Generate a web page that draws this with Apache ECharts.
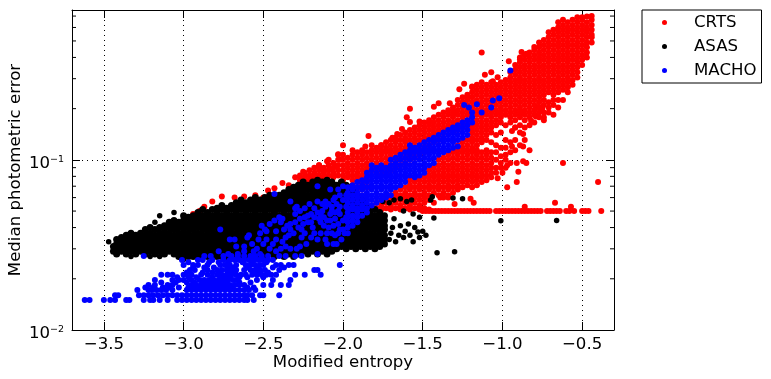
<!DOCTYPE html>
<html>
<head>
<meta charset="utf-8">
<script src="https://cdn.jsdelivr.net/npm/echarts@6/dist/echarts.min.js"></script>
<style>html,body{margin:0;background:#fff}#main{width:771px;height:379px}</style>
</head>
<body>
<div id="main"></div>
<script>
var xTicks = [-3.5, -3.0, -2.5, -2.0, -1.5, -1.0, -0.5];
var yMinorTicks = [.02,.03,.04,.05,.06,.07,.08,.09,.2,.3,.4,.5,.6,.7];

var crtsColumns = [
[-2.0,[.107,.1,.093,.087,.081,.076]],[-1.97,[.103,.096,.09,.084,.079]],[-1.94,[.114,.107,.1,.093,.087,.081,.076,.071]],
[-1.91,[.111,.103,.096,.09,.084,.079,.074]],[-1.88,[.114,.107,.1,.093,.087,.081,.076,.071,.067]],[-1.85,[.111,.103,.096,.09,.084,.079,.074,.069]],
[-1.82,[.122,.114,.107,.1,.093,.087,.054,.051]],[-1.79,[.118,.111,.103,.096,.09,.084,.056,.052]],[-1.76,[.122,.114,.107,.1,.093,.087,.081,.058,.054,.051]],
[-1.73,[.127,.118,.111,.103,.096,.09,.084,.06,.056,.052]],[-1.7,[.131,.122,.114,.107,.1,.093,.087,.062,.058,.054,.051]],[-1.67,[.135,.127,.118,.111,.103,.096,.09,.064,.06,.056,.052]],
[-1.64,[.14,.131,.122,.114,.107,.1,.093,.067,.062,.058,.054,.051]],[-1.61,[.135,.127,.118,.111,.103,.096,.069,.064,.06,.056,.052]],[-1.58,[.14,.131,.122,.114,.107,.1,.076,.071,.067,.062,.058,.054,.051]],
[-1.55,[.145,.135,.127,.118,.111,.103,.079,.074,.069,.064,.06,.056,.052]],[-1.52,[.15,.14,.131,.122,.114,.107,.076,.071,.067,.062,.058,.054,.051]],[-1.49,[.155,.145,.135,.127,.118,.111,.079,.074,.069,.064,.06,.056,.052]],
[-1.46,[.15,.14,.131,.122,.114,.087,.081,.076,.071,.067,.062,.058,.051]],[-1.43,[.155,.145,.135,.127,.09,.084,.079,.074,.069,.064,.056]],[-1.4,[.16,.15,.14,.131,.093,.087,.081,.076,.071,.067]],
[-1.37,[.166,.155,.145,.135,.103,.096,.09,.084,.079,.074,.069]],[-1.34,[.171,.16,.15,.107,.1,.093,.087,.081,.076,.071]],[-1.31,[.178,.166,.155,.145,.111,.103,.096,.09,.084,.079,.074]],
[-1.28,[.184,.171,.16,.15,.122,.114,.107,.1,.093,.087,.081,.076]],[-1.25,[.19,.178,.166,.155,.127,.118,.111,.103,.096,.09,.084,.079]],[-1.22,[.196,.184,.171,.16,.131,.122,.114,.107,.1,.093,.087,.081]],
[-1.19,[.218,.203,.19,.178,.166,.155,.145,.135,.127,.118,.111,.103,.096,.09,.084]],[-1.16,[.225,.21,.196,.184,.171,.16,.15,.14,.131,.122,.114,.107,.1,.093,.087]],[-1.13,[.25,.233,.218,.203,.19,.178,.166,.155,.145,.135,.127,.111,.103,.096,.09]],
[-1.1,[.258,.241,.225,.21,.196,.184,.171,.16,.15,.14,.131,.114,.107,.1,.093]],[-1.07,[.267,.25,.233,.218,.203,.19,.178,.166,.155,.145,.127,.111,.09]],[-1.04,[.276,.258,.241,.225,.21,.196,.184,.171,.16,.14,.122,.1]],
[-1.01,[.286,.267,.25,.233,.218,.203,.19,.178,.166,.145,.118,.096]],[-.98,[.295,.276,.258,.241,.225,.21,.196,.184,.16,.131,.107]],[-.95,[.327,.305,.286,.267,.25,.233,.218,.203,.19,.166,.127,.096]],
[-.92,[.361,.338,.316,.295,.276,.258,.241,.225,.21,.196,.171,.114]],[-.89,[.4,.375,.35,.327,.305,.286,.267,.25,.233,.218,.203,.19,.145]],[-.86,[.414,.387,.361,.338,.316,.295,.276,.258,.241,.225,.21,.196,.171]],
[-.83,[.428,.4,.375,.35,.327,.305,.286,.267,.25,.233,.218,.19]],[-.8,[.443,.414,.387,.361,.338,.316,.295,.276,.258,.241,.225,.196]],[-.77,[.49,.459,.428,.4,.375,.35,.327,.305,.286,.267,.25,.233,.203,.178]],
[-.74,[.507,.474,.443,.414,.387,.361,.338,.316,.295,.276,.258,.241,.21,.171]],[-.71,[.562,.525,.49,.459,.428,.4,.375,.35,.327,.305,.286,.267,.25,.218,.19]],[-.68,[.581,.543,.507,.474,.443,.414,.387,.361,.338,.316,.295,.276,.258,.225]],
[-.65,[.643,.6,.562,.525,.49,.459,.428,.4,.375,.35,.327,.305,.286,.267]],[-.62,[.665,.621,.581,.543,.507,.474,.443,.414,.387,.361,.338,.316,.295]],[-.59,[.643,.6,.562,.525,.49,.459,.428,.4,.375,.35,.327,.305]],
[-.56,[.665,.621,.581,.543,.507,.474,.443,.414,.387,.361,.338]],[-.53,[.688,.643,.6,.562,.525,.49,.459,.428,.4,.375,.35]],[-.5,[.69,.665,.621,.581,.543,.507,.474,.443,.414,.387]],
[-.47,[.695,.643,.6,.562,.525,.49,.459,.428]],[-.44,[.70,.665,.621,.581,.543]]
];
// more CRTS: left end above ASAS, upper edge, lower edge
var crtsLeftColumns = [
[-2.27,[.076,.081]],[-2.24,[.079,.084]],[-2.21,[.081,.087]],[-2.18,[.079,.084,.09]],[-2.15,[.081,.087,.093]],[-2.12,[.079,.084,.09]],[-2.09,[.081,.087,.093,.1]],[-2.06,[.079,.084,.09,.096]],[-2.03,[.081,.087,.093,.1,.107]]
];
var crtsTopColumns = [
[-1.61,[.145]],[-1.58,[.15]],[-1.55,[.155]],[-1.52,[.16]],[-1.49,[.166]],[-1.46,[.16,.171]],[-1.43,[.166,.178]],[-1.4,[.171,.184]],[-1.37,[.178,.19]],[-1.34,[.184,.196]],[-1.31,[.19,.203]],
[-1.28,[.196,.21,.225]],[-1.25,[.203,.218,.233]],[-1.22,[.21,.225,.241]],[-1.19,[.233,.25,.267]],[-1.16,[.241,.258,.276]],[-1.13,[.267,.286]],[-1.1,[.276]],[-1.07,[.286]]
];
var crtsLowColumns = [
[-1.4,[.1,.062]],[-1.37,[.064,.06]],[-1.34,[.067,.062]],[-1.31,[.069,.064]],[-1.28,[.071,.067]],[-1.25,[.074,.069]],[-1.22,[.076,.071]],[-1.19,[.079,.074,.069]],[-1.16,[.081,.076,.071]],[-1.13,[.084,.079,.074]],[-1.1,[.087,.081,.076]],
[-1.07,[.103,.096,.084,.079]],[-1.04,[.111,.09,.084]],[-1.01,[.105,.09]],[-.98,[.118,.1,.09]],[-.95,[.178,.111]],[-.92,[.184,.155,.131]],[-.89,[.178,.16,.122]],[-.86,[.184,.155,.131]],[-.83,[.203,.178,.16]],[-.8,[.21,.184,.166]],
[-.77,[.218,.19]],[-.74,[.225,.19]],[-.71,[.203]],[-.68,[.241,.21,.184]],[-.65,[.25,.225,.203]],[-.62,[.276,.258,.225]],[-.59,[.286,.267,.25]],[-.56,[.316,.295,.276]],[-.53,[.327,.305]],[-.5,[.361]],[-.47,[.4]],[-.44,[.525,.49]]
];
// sparse CRTS points above the ASAS cloud and around the main band
var crtsScatter = [
[-2.9,.05],[-2.94,.048],[-2.87,.053],[-2.82,.057],[-2.76,.061],[-2.68,.06],[-2.62,.061],[-2.55,.062],[-2.5,.06],[-2.47,.066],[-2.43,.068],[-2.38,.073],[-2.34,.071],[-2.3,.079],[-2.25,.085],[-2.2,.08],[-2.28,.068],[-2.22,.076],
[-2.15,.093],[-2.12,.085],[-2.08,.088],[-2.05,.092],[-2.03,.108],[-2.1,.098],[-2.17,.081],[-2.0,.122],[-2.02,.1],[-2.06,.08],[-2.14,.077],
[-1.86,.12],[-1.76,.122],[-1.84,.138],[-1.69,.135],[-1.58,.167],[-1.66,.142],[-1.52,.168],[-1.46,.165],[-1.63,.152],
[-1.58,.2],[-1.6,.178],[-1.43,.205],[-1.4,.215],[-1.33,.215],[-1.3,.19],[-1.27,.26],[-1.24,.28],[-1.19,.27],[-1.22,.23],
[-1.13,.428],[-.96,.38],[-.89,.39],[-.88,.43],[-.85,.42],[-.8,.46],[-1.11,.316],[-1.07,.327],[-1.03,.306],[-1.06,.29],
[-.79,.205],[-.75,.2],[-.74,.178],[-.79,.18],[-.82,.17],[-.88,.19],[-.87,.142],[-.94,.148],[-.92,.155],[-.87,.12],[-.83,.114],[-.94,.12],[-.87,.098],[-.91,.096],[-.85,.096],[-.97,.093],[-.9,.085],[-1.0,.084],[-.91,.074],[-.97,.069],[-1.03,.078],
[-.62,.096],[-.4,.074],[-.67,.056],[-.38,.05],[-.57,.053],[-.86,.053],[-1.34,.06],[-1.2,.059],[-1.18,.056],[-1.39,.06],[-1.3,.055]
];
// the flat row at 0.05
var crtsFloorX = [-1.5,-1.48,-1.46,-1.44,-1.42,-1.4,-1.38,-1.36,-1.34,-1.32,-1.3,-1.28,-1.26,-1.24,-1.22,-1.2,-1.18,-1.16,-1.14,-1.12,-1.1,-1.08,-1.04,-1.02,-1.0,-.98,-.96,-.94,-.92,-.9,-.88,-.86,-.84,-.82,-.8,-.78,-.76,-.72,-.7,-.68,-.66,-.64,-.6,-.58,-.55,-.5,-.48,-.46];
var crtsFloorY = .05;

// ASAS columns
var asasColumns = [
[-3.44,[.029,.031]],[-3.42,[.028,.03,.032,.034]],[-3.39,[.029,.031,.033,.035]],[-3.36,[.028,.03,.032,.034,.036]],[-3.33,[.029,.031,.033,.035,.037]],
[-3.3,[.028,.03,.032,.034,.036]],[-3.27,[.029,.031,.033,.035,.037]],[-3.24,[.028,.03,.032,.034,.036,.039]],[-3.21,[.029,.031,.033,.035,.037,.04]],[-3.18,[.028,.03,.032,.034,.036,.039]],
[-3.15,[.029,.031,.033,.035,.037,.04]],[-3.12,[.028,.03,.032,.034,.036,.039,.041]],[-3.09,[.029,.031,.033,.035,.037,.04,.043]],[-3.06,[.028,.03,.032,.034,.036,.039,.041,.044]],
[-3.03,[.027,.029,.031,.033,.035,.037,.04,.043]],[-3.0,[.027,.028,.03,.032,.034,.036,.039,.041,.044,.047]],[-2.97,[.027,.029,.031,.033,.035,.037,.04,.043,.046]],[-2.94,[.027,.028,.03,.032,.034,.036,.039,.041,.044,.047]],
[-2.91,[.027,.029,.031,.033,.035,.037,.04,.043,.046,.049]],[-2.88,[.027,.028,.03,.032,.034,.036,.039,.041,.044,.047,.051]],[-2.85,[.027,.029,.031,.033,.035,.037,.04,.043,.046,.049]],[-2.82,[.027,.028,.03,.032,.034,.036,.039,.041,.044,.047,.051]],
[-2.79,[.027,.029,.031,.033,.035,.037,.04,.043,.046,.049,.052]],[-2.76,[.027,.028,.03,.032,.034,.036,.039,.041,.044,.047,.051,.054]],[-2.73,[.027,.029,.031,.033,.035,.037,.04,.043,.046,.049,.052]],[-2.7,[.027,.028,.03,.032,.034,.036,.039,.041,.044,.047,.051,.054]],
[-2.67,[.027,.029,.031,.033,.035,.037,.04,.043,.046,.049,.052,.056]],[-2.64,[.027,.028,.03,.032,.034,.036,.039,.041,.044,.047,.051,.054,.058]],[-2.61,[.027,.029,.031,.033,.035,.037,.04,.043,.046,.049,.052,.056]],[-2.58,[.027,.028,.03,.032,.034,.036,.039,.041,.044,.047,.051,.054,.058]],
[-2.55,[.027,.029,.031,.033,.035,.037,.04,.043,.046,.049,.052,.056,.06]],[-2.52,[.027,.028,.03,.032,.034,.036,.039,.041,.044,.047,.051,.054,.058]],[-2.49,[.027,.029,.031,.033,.035,.037,.04,.043,.046,.049,.052,.056,.06]],[-2.46,[.028,.03,.032,.034,.036,.039,.041,.044,.047,.051,.054,.058,.062]],
[-2.43,[.027,.029,.031,.033,.035,.037,.04,.043,.046,.049,.052,.056,.06]],[-2.4,[.028,.03,.032,.034,.036,.039,.041,.044,.047,.051,.054,.058,.062]],[-2.37,[.027,.029,.031,.033,.035,.037,.04,.043,.046,.049,.052,.056,.06,.064]],[-2.34,[.028,.03,.032,.034,.036,.039,.041,.044,.047,.051,.054,.058,.062,.067]],
[-2.31,[.027,.029,.031,.033,.035,.037,.04,.043,.046,.049,.052,.056,.06,.064,.069]],[-2.28,[.028,.03,.032,.034,.036,.039,.041,.044,.047,.051,.054,.058,.062,.067,.071]],[-2.25,[.029,.031,.033,.035,.037,.04,.043,.046,.049,.052,.056,.06,.064,.069,.074]],[-2.22,[.028,.03,.032,.034,.036,.039,.041,.044,.047,.051,.054,.058,.062,.067,.071]],
[-2.19,[.029,.031,.033,.035,.037,.04,.043,.046,.049,.052,.056,.06,.064,.069,.074]],[-2.16,[.028,.03,.032,.034,.036,.039,.041,.044,.047,.051,.054,.058,.062,.067,.071,.076]],[-2.13,[.029,.031,.033,.035,.037,.04,.043,.046,.049,.052,.056,.06,.064,.069,.074]],[-2.1,[.028,.03,.032,.034,.036,.039,.041,.044,.047,.051,.054,.058,.062,.067,.071,.076]],
[-2.07,[.029,.031,.033,.035,.037,.04,.043,.046,.049,.052,.056,.06,.064,.069,.074]],[-2.04,[.03,.032,.034,.036,.039,.041,.044,.047,.051,.054,.058,.062,.067,.071]],[-2.01,[.031,.033,.035,.037,.04,.043,.046,.049,.052,.056,.06,.064,.069,.074]],[-1.98,[.03,.032,.034,.036,.039,.041,.044,.047,.051,.054,.058,.062,.067,.071]],
[-1.95,[.031,.033,.035,.037,.04,.043,.046,.049,.052,.056,.06,.064,.069]],[-1.92,[.03,.032,.034,.036,.039,.041,.044,.047,.051,.054,.058,.062,.067]],[-1.89,[.031,.033,.035,.037,.04,.043,.046,.049,.052,.056,.06]],[-1.86,[.03,.032,.034,.036,.039,.041,.044,.047,.051,.054,.058]],
[-1.83,[.031,.033,.035,.037,.04,.043,.046,.049,.052]],[-1.8,[.03,.032,.034,.036,.039,.041,.044,.047,.051]],[-1.77,[.031,.033,.035,.037,.04,.043,.046,.049]],[-1.74,[.032,.034,.036,.039,.041,.044,.047]]
];
var asasScatter = [
[-3.47,.033],[-3.33,.027],[-3.21,.027],[-3.18,.043],[-3.15,.047],[-3.15,.027],[-3.06,.049],[-3.0,.026],
[-1.71,.034],[-1.7,.037],[-1.69,.04],[-1.68,.045],[-1.67,.033],[-1.65,.036],[-1.64,.041],[-1.62,.035],[-1.61,.038],[-1.59,.042],[-1.58,.036],[-1.56,.033],[-1.55,.04],[-1.53,.0377],[-1.52,.035],[-1.52,.046],[-1.5,.038],[-1.48,.036],
[-1.01,.0439],[-.66,.044],[-1.43,.0456],[-1.31,.0597],[-1.25,.059],[-1.44,.0606],[-1.45,.058],[-1.57,.058],[-1.64,.059],[-1.75,.057],[-1.6,.057],[-1.68,.058],[-1.71,.056],[-1.41,.0284],[-1.3,.0288],[-1.56,.048],[-1.62,.05]
];

// MACHO: the diagonal band as columns
var machoColumns = [
[-1.97,[.069,.064,.06,.056,.052,.049,.046,.043,.04,.037]],[-1.94,[.071,.067,.062,.058,.054,.051,.047,.044,.041]],[-1.91,[.074,.069,.064,.06,.056,.052,.049,.046,.043]],[-1.88,[.076,.071,.067,.062,.058,.054,.051,.047]],
[-1.85,[.084,.079,.074,.069,.064,.06,.056,.052,.049]],[-1.82,[.093,.087,.081,.076,.071,.067,.062,.058,.054]],[-1.79,[.09,.084,.079,.074,.069,.064,.06,.056]],[-1.76,[.093,.087,.081,.076,.071,.067,.062,.058]],
[-1.73,[.09,.084,.079,.074,.069,.064,.06]],[-1.7,[.1,.093,.087,.081,.076,.071,.067,.062]],[-1.67,[.103,.096,.09,.084,.079,.074,.069]],[-1.64,[.107,.1,.093,.087,.081,.076,.071]],
[-1.61,[.111,.103,.096,.09,.084,.079,.074]],[-1.58,[.122,.114,.107,.1,.093,.087,.081]],[-1.55,[.118,.111,.103,.096,.09,.084,.079]],[-1.52,[.122,.114,.107,.1,.093,.087,.081]],
[-1.49,[.127,.118,.111,.103,.096,.09,.084]],[-1.46,[.131,.122,.114,.107,.1,.093]],[-1.43,[.135,.127,.118,.111,.103,.096]],[-1.4,[.14,.131,.122,.114,.107]],
[-1.37,[.145,.135,.127,.118,.111]],[-1.34,[.15,.14,.131,.122,.114]],[-1.31,[.155,.145,.135,.127,.118]],[-1.28,[.16,.15,.14,.131,.12]],
[-1.25,[.166,.155,.145,.135]],[-1.22,[.171,.16,.15,.14]],[-1.19,[.19,.178,.166]]
];
var machoScatter = [
[-1.24,.21],[-1.21,.203],[-1.16,.212],[-1.13,.19],[-1.06,.223],[-1.02,.23],[-1.07,.203],[-.95,.335],
[-2.77,.039],[-2.71,.034],[-2.68,.034],[-2.59,.036],[-2.6,.035],[-2.51,.041],[-2.49,.039],[-2.46,.042],[-2.4,.046],[-2.43,.044],[-2.38,.045],[-2.39,.043],[-2.52,.037],[-2.48,.038],[-2.42,.038],[-2.35,.041],[-2.33,.042],[-2.33,.057],[-2.29,.053],[-2.3,.048],[-2.3,.043],[-2.24,.046],[-2.2,.048],[-2.16,.049],[-2.15,.045],[-2.21,.055],[-2.16,.057],[-2.11,.057],[-2.11,.053],[-2.08,.067],[-2.03,.067],[-2.06,.058],[-2.02,.053],[-1.98,.053],[-2.05,.049],[-2.1,.044],[-2.14,.043],[-2.19,.04],[-2.26,.039],[-2.26,.035],[-2.23,.032],[-2.31,.037],[-2.36,.035],[-2.42,.034],[-2.48,.034],[-2.53,.034],[-2.57,.032],[-2.62,.031],[-2.67,.031],[-2.54,.03],[-2.46,.03],[-2.39,.03],[-2.33,.03],[-2.29,.03],[-2.16,.034],[-2.11,.034],[-2.1,.032],[-2.06,.032],[-2.05,.036],[-1.99,.037],[-2.16,.028],[-2.43,.063],[-2.16,.07],
[-2.02,.062],[-2.0,.07],[-2.05,.06],[-1.98,.062],[-2.0,.058],[-2.02,.048],[-2.0,.044],[-1.98,.046],[-2.03,.042],[-2.0,.039],[-2.27,.05],[-2.24,.052],[-2.18,.052],[-2.13,.05],[-2.08,.048],[-2.07,.053],[-2.09,.04],[-2.06,.041],[-2.22,.043],[-2.34,.036],[-2.38,.033],[-2.44,.032],[-2.5,.032],[-2.36,.031],[-2.27,.031],[-2.42,.029],[-2.56,.029],[-2.52,.028],[-2.62,.029],[-2.66,.028],[-2.72,.028],[-2.78,.029],
[-2.3,.052],[-2.27,.045],[-2.25,.042],[-2.22,.047],[-2.2,.043],[-2.18,.046],[-2.14,.048],[-2.12,.041],[-2.12,.046],[-2.08,.044],[-2.07,.05],[-2.05,.045],[-2.03,.05],[-2.04,.055],[-2.09,.055],[-2.13,.055],[-2.18,.037],[-2.14,.037],[-2.1,.037],[-2.07,.037],[-2.03,.037],[-2.01,.034],[-2.04,.032],[-2.24,.037],[-2.2,.035],[-2.28,.04],[-2.33,.039],[-2.37,.039],[-2.02,.039]
];
// MACHO: the quantised rows under the ASAS cloud, [error, [x]]
var machoRows = [
[.015,[-3.62,-3.59,-3.5,-3.46,-3.43,-3.36,-3.34,-3.25,-3.21,-3.19,-3.15,-3.1,-3.04,-3.01,-2.98,-2.95,-2.92,-2.89,-2.86,-2.83,-2.8,-2.77,-2.74,-2.71,-2.68,-2.65,-2.62,-2.6,-2.56]],
[.016,[-3.43,-3.41,-3.28,-3.25,-3.22,-3.19,-3.16,-3.13,-3.1,-3.07,-3.04,-3.01,-2.98,-2.95,-2.92,-2.89,-2.86,-2.83,-2.8,-2.77,-2.74,-2.71,-2.68,-2.65,-2.62,-2.6,-2.57,-2.52,-2.5,-2.4]],
[.0172,[-3.29,-3.22,-3.2,-3.17,-3.14,-3.11,-3.07,-2.98,-2.95,-2.92,-2.89,-2.86,-2.83,-2.8,-2.77,-2.74,-2.71,-2.68,-2.65,-2.62,-2.59,-2.55]],
[.0184,[-3.22,-3.18,-3.1,-3.07,-2.95,-2.92,-2.89,-2.86,-2.83,-2.8,-2.77,-2.74,-2.71,-2.68,-2.65,-2.62,-2.5,-2.45,-2.39,-2.34]],
[.0197,[-3.18,-3.07,-3.03,-3.0,-2.95,-2.9,-2.87,-2.84,-2.81,-2.78,-2.75,-2.72,-2.69,-2.67,-2.54,-2.44,-2.33]],
[.0211,[-3.14,-3.1,-3.07,-3.0,-2.95,-2.89,-2.85,-2.79,-2.76,-2.73,-2.7,-2.67,-2.64,-2.61,-2.57,-2.54,-2.51,-2.48,-2.45,-2.42,-2.3,-2.24,-2.14]],
[.0225,[-2.96,-2.93,-2.85,-2.79,-2.76,-2.73,-2.7,-2.67,-2.62,-2.58,-2.55,-2.52,-2.49,-2.4,-2.18,-2.16]],
[.0241,[-3.0,-2.94,-2.91,-2.85,-2.77,-2.74,-2.71,-2.67,-2.61,-2.58,-2.55,-2.52,-2.5,-2.42,-2.39,-2.34,-2.31,-2.02]],
[.0258,[-3.01,-2.91,-2.88,-2.82,-2.75,-2.71,-2.68,-2.65,-2.62,-2.59,-2.56,-2.53,-2.5,-2.47,-2.44]],
[.0272,[-3.25,-2.87,-2.83,-2.75,-2.7,-2.66,-2.62,-2.58,-2.55,-2.51,-2.47,-2.4,-2.36,-2.3,-2.26]],
[.0178,[-3.24,-3.19,-3.13,-3.09,-3.03,-2.97,-2.94,-2.91,-2.88,-2.85,-2.82,-2.79,-2.76,-2.73,-2.7,-2.6,-2.56]],
[.019,[-3.14,-3.05,-2.98,-2.93,-2.88,-2.85,-2.82,-2.79,-2.76,-2.73,-2.65,-2.58]],
[.0204,[-3.04,-2.97,-2.92,-2.82,-2.77,-2.74,-2.71,-2.65,-2.6,-2.5]],
[.0218,[-2.98,-2.88,-2.82,-2.78,-2.72,-2.68,-2.55,-2.52,-2.47]],
[.0233,[-2.94,-2.87,-2.81,-2.72,-2.69,-2.6,-2.54,-2.44,-2.37]],
[.025,[-2.97,-2.84,-2.78,-2.72,-2.63,-2.57,-2.48]]
];

function fromColumns(cols) {
    var out = [];
    cols.forEach(function (c) {
        c[1].forEach(function (y) { out.push([c[0], y]); });
    });
    return out;
}
function fromRows(rows) {
    var out = [];
    rows.forEach(function (r) {
        r[1].forEach(function (x) { out.push([x, r[0]]); });
    });
    return out;
}

var crtsData = fromColumns(crtsColumns).concat(fromColumns(crtsLeftColumns), fromColumns(crtsTopColumns), fromColumns(crtsLowColumns), crtsScatter, crtsFloorX.map(function (x) { return [x, crtsFloorY]; }));
var machoData = fromRows(machoRows).concat(machoScatter, fromColumns(machoColumns));

var XMIN = -3.7, XMAX = -0.3, YMIN = 0.01, YMAX = 0.76;
var FONT = 'DejaVu Sans';

function fmtX(v) { return v.toFixed(1).replace('-', '\u2212'); }
function fmtY(v) {
    var e = Math.log10(v);
    if (Math.abs(e - Math.round(e)) > 1e-6) return '';
    return '{b|10}{s|\u2212' + Math.abs(Math.round(e)) + '}';
}

function xAxisOf(pos, labels) {
    return {
        type: 'value', position: pos, min: XMIN, max: XMAX,
        axisLine: { show: true, onZero: false, lineStyle: { color: '#000', width: 1 } },
        axisTick: { show: true, inside: true, length: 8, customValues: xTicks, lineStyle: { color: '#000' } },
        axisLabel: { show: labels, customValues: xTicks, formatter: fmtX, color: '#000', fontSize: 16.6, fontFamily: FONT, margin: 6 },
        splitLine: { show: labels, lineStyle: { color: '#000', type: [1, 4], width: 1 } }
    };
}
function yAxisOf(pos, labels) {
    return {
        type: 'log', logBase: 10, position: pos, min: YMIN, max: YMAX,
        axisLine: { show: true, lineStyle: { color: '#000', width: 1 } },
        axisTick: { show: true, inside: true, length: 8, lineStyle: { color: '#000' } },
        axisLabel: {
            show: labels, formatter: fmtY, margin: 8, showMaxLabel: false, padding: [8, 0, 0, 0],
            rich: {
                b: { color: '#000', fontSize: 16.6, fontFamily: FONT },
                s: { color: '#000', fontSize: 9.5, fontFamily: FONT, padding: [0, 0, 8, 0] }
            }
        },
        splitLine: { show: labels, lineStyle: { color: '#000', type: [1, 4], width: 1 } }
    };
}

function scatterOf(name, color, data, size) {
    return {
        name: name, type: 'scatter', data: data, symbol: 'circle', symbolSize: size,
        itemStyle: { color: color, opacity: 1 }, silent: true, animation: false,
        clip: true, progressive: 0, large: false
    };
}

var xa = xAxisOf('bottom', true);
xa.name = 'Modified entropy';
xa.nameLocation = 'middle';
xa.nameGap = 24;
xa.nameMoveOverlap = false;
xa.nameTextStyle = { color: '#000', fontSize: 16.6, fontFamily: FONT };
var ya = yAxisOf('left', true);
ya.name = 'Median photometric error';
ya.nameLocation = 'middle';
ya.nameGap = 48;
ya.nameMoveOverlap = false;
ya.nameTextStyle = { color: '#000', fontSize: 16.6, fontFamily: FONT };

var myChart = echarts.init(document.getElementById('main'), null, { renderer: 'canvas' });
myChart.setOption({
    animation: false,
    backgroundColor: '#fff',
    grid: { left: 72, top: 10, width: 542, height: 320, show: false, outerBoundsMode: 'none' },
    legend: {
        data: ['CRTS', 'ASAS', 'MACHO'],
        orient: 'vertical', left: 642, top: 10,
        padding: [4, 5, 4, 20], itemWidth: 5, itemHeight: 5, itemGap: 7,
        borderColor: '#000', borderWidth: 1, backgroundColor: '#fff',
        selectedMode: false, icon: 'circle',
        textStyle: { color: '#000', fontSize: 16.6, fontFamily: FONT, padding: [0, 0, 0, 22], lineHeight: 15 }
    },
    xAxis: [xa, xAxisOf('top', false)],
    yAxis: [ya, yAxisOf('right', false)],
    series: [
        scatterOf('CRTS', '#ff0000', crtsData, 6),
        scatterOf('ASAS', '#000000', fromColumns(asasColumns), 7),
        scatterOf('ASAS', '#000000', asasScatter, 5.5),
        scatterOf('MACHO', '#0000ff', machoData, 6),
        {
            type: 'custom', silent: true, z: 5, clip: false,
            data: yMinorTicks.map(function (v) { return [XMIN, v]; }),
            renderItem: function (params, api) {
                var l = api.coord([XMIN, api.value(1)]);
                var r = api.coord([XMAX, api.value(1)]);
                var st = { stroke: '#000', lineWidth: 1 };
                return { type: 'group', children: [
                    { type: 'line', shape: { x1: l[0], y1: l[1], x2: l[0] + 4, y2: l[1] }, style: st },
                    { type: 'line', shape: { x1: r[0] - 4, y1: r[1], x2: r[0], y2: r[1] }, style: st }
                ] };
            }
        }
    ]
});
</script>
</body>
</html>
